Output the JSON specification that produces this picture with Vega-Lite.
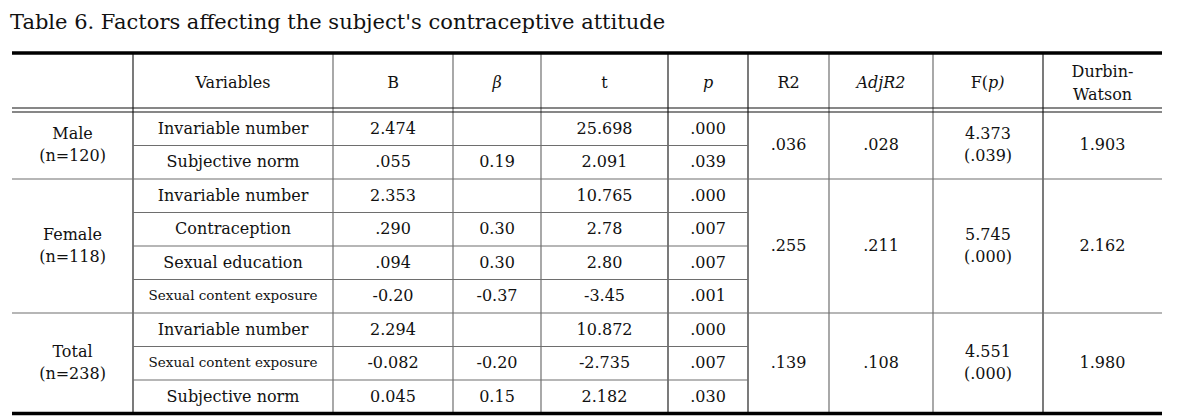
{
  "$schema": "https://vega.github.io/schema/vega-lite/v6.json",
  "width": 1150,
  "height": 361,
  "autosize": {"type": "none"},
  "padding": {"left": 12, "top": 53, "right": 20, "bottom": 6},
  "background": "white",
  "config": {"view": {"stroke": null}, "font": "DejaVu Serif"},
  "title": {
    "text": "Table 6. Factors affecting the subject's contraceptive attitude",
    "anchor": "start",
    "frame": "group",
    "font": "DejaVu Serif",
    "fontSize": 21,
    "fontWeight": "normal",
    "color": "#111111",
    "offset": 18,
    "dx": -2
  },
  "datasets": {
    "columns": [
      {"col": "group", "center": 60.5},
      {"col": "var", "center": 221},
      {"col": "B", "center": 381},
      {"col": "beta", "center": 485},
      {"col": "t", "center": 592.5},
      {"col": "p", "center": 696},
      {"col": "R2", "center": 776.5},
      {"col": "AdjR2", "center": 869},
      {"col": "F", "center": 976},
      {"col": "DW", "center": 1090.5}
    ],
    "header": [
      {"col": "var", "label": "Variables"},
      {"col": "B", "label": "B"},
      {"col": "beta", "label": "β"},
      {"col": "t", "label": "t"},
      {"col": "p", "label": "p"},
      {"col": "R2", "label": "R2"},
      {"col": "AdjR2", "label": "AdjR2"},
      {"col": "DW", "label": "Durbin-\nWatson"}
    ],
    "cells": [
      {"col": "group", "row": 1.5, "label": "Male\n(n=120)"},
      {"col": "var", "row": 1, "label": "Invariable number"},
      {"col": "B", "row": 1, "label": "2.474"},
      {"col": "t", "row": 1, "label": "25.698"},
      {"col": "p", "row": 1, "label": ".000"},
      {"col": "var", "row": 2, "label": "Subjective norm"},
      {"col": "B", "row": 2, "label": ".055"},
      {"col": "beta", "row": 2, "label": "0.19"},
      {"col": "t", "row": 2, "label": "2.091"},
      {"col": "p", "row": 2, "label": ".039"},
      {"col": "R2", "row": 1.5, "label": ".036"},
      {"col": "AdjR2", "row": 1.5, "label": ".028"},
      {"col": "F", "row": 1.5, "label": "4.373\n(.039)"},
      {"col": "DW", "row": 1.5, "label": "1.903"},

      {"col": "group", "row": 4.5, "label": "Female\n(n=118)"},
      {"col": "var", "row": 3, "label": "Invariable number"},
      {"col": "B", "row": 3, "label": "2.353"},
      {"col": "t", "row": 3, "label": "10.765"},
      {"col": "p", "row": 3, "label": ".000"},
      {"col": "var", "row": 4, "label": "Contraception"},
      {"col": "B", "row": 4, "label": ".290"},
      {"col": "beta", "row": 4, "label": "0.30"},
      {"col": "t", "row": 4, "label": "2.78"},
      {"col": "p", "row": 4, "label": ".007"},
      {"col": "var", "row": 5, "label": "Sexual education"},
      {"col": "B", "row": 5, "label": ".094"},
      {"col": "beta", "row": 5, "label": "0.30"},
      {"col": "t", "row": 5, "label": "2.80"},
      {"col": "p", "row": 5, "label": ".007"},
      {"col": "var", "row": 6, "label": "Sexual content exposure"},
      {"col": "B", "row": 6, "label": "-0.20"},
      {"col": "beta", "row": 6, "label": "-0.37"},
      {"col": "t", "row": 6, "label": "-3.45"},
      {"col": "p", "row": 6, "label": ".001"},
      {"col": "R2", "row": 4.5, "label": ".255"},
      {"col": "AdjR2", "row": 4.5, "label": ".211"},
      {"col": "F", "row": 4.5, "label": "5.745\n(.000)"},
      {"col": "DW", "row": 4.5, "label": "2.162"},

      {"col": "group", "row": 8, "label": "Total\n(n=238)"},
      {"col": "var", "row": 7, "label": "Invariable number"},
      {"col": "B", "row": 7, "label": "2.294"},
      {"col": "t", "row": 7, "label": "10.872"},
      {"col": "p", "row": 7, "label": ".000"},
      {"col": "var", "row": 8, "label": "Sexual content exposure"},
      {"col": "B", "row": 8, "label": "-0.082"},
      {"col": "beta", "row": 8, "label": "-0.20"},
      {"col": "t", "row": 8, "label": "-2.735"},
      {"col": "p", "row": 8, "label": ".007"},
      {"col": "var", "row": 9, "label": "Subjective norm"},
      {"col": "B", "row": 9, "label": "0.045"},
      {"col": "beta", "row": 9, "label": "0.15"},
      {"col": "t", "row": 9, "label": "2.182"},
      {"col": "p", "row": 9, "label": ".030"},
      {"col": "R2", "row": 8, "label": ".139"},
      {"col": "AdjR2", "row": 8, "label": ".108"},
      {"col": "F", "row": 8, "label": "4.551\n(.000)"},
      {"col": "DW", "row": 8, "label": "1.980"}
    ],
    "thick": [{"y": -1.261}, {"y": 9.5}],
    "double": [{"y": 0.381}, {"y": 0.5}],
    "groupSep": [{"y": 2.5}, {"y": 6.5}],
    "rowSep": [{"y": 1.5}, {"y": 3.5}, {"y": 4.5}, {"y": 5.5}, {"y": 7.5}, {"y": 8.5}],
    "vMajor": [{"x": 121}, {"x": 656}, {"x": 736}, {"x": 1031}],
    "vMinor": [{"x": 321}, {"x": 441}, {"x": 529}, {"x": 817}, {"x": 921}]
  },
  "layer": [
    {
      "data": {"name": "vMinor"},
      "mark": {"type": "rule", "color": "#7a7a7a", "strokeWidth": 1.3},
      "encoding": {
        "x": {"field": "x", "type": "quantitative", "scale": {"domain": [0, 1150], "nice": false, "zero": false}, "axis": null},
        "y": {"datum": -1.261, "type": "quantitative", "scale": {"domain": [-1.261, 9.515], "reverse": true, "nice": false, "zero": false}, "axis": null},
        "y2": {"datum": 9.5}
      }
    },
    {
      "data": {"name": "vMajor"},
      "mark": {"type": "rule", "color": "#333333", "strokeWidth": 1.3},
      "encoding": {
        "x": {"field": "x", "type": "quantitative", "scale": {"domain": [0, 1150], "nice": false, "zero": false}, "axis": null},
        "y": {"datum": -1.261, "type": "quantitative", "scale": {"domain": [-1.261, 9.515], "reverse": true, "nice": false, "zero": false}, "axis": null},
        "y2": {"datum": 9.5}
      }
    },
    {
      "data": {"name": "rowSep"},
      "mark": {"type": "rule", "color": "#6e6e6e", "strokeWidth": 1.2},
      "encoding": {
        "x": {"datum": 121, "type": "quantitative", "scale": {"domain": [0, 1150], "nice": false, "zero": false}, "axis": null},
        "x2": {"datum": 736},
        "y": {"field": "y", "type": "quantitative", "scale": {"domain": [-1.261, 9.515], "reverse": true, "nice": false, "zero": false}, "axis": null}
      }
    },
    {
      "data": {"name": "groupSep"},
      "mark": {"type": "rule", "color": "#6e6e6e", "strokeWidth": 1.2},
      "encoding": {
        "x": {"datum": 0, "type": "quantitative", "scale": {"domain": [0, 1150], "nice": false, "zero": false}, "axis": null},
        "x2": {"datum": 1150},
        "y": {"field": "y", "type": "quantitative", "scale": {"domain": [-1.261, 9.515], "reverse": true, "nice": false, "zero": false}, "axis": null}
      }
    },
    {
      "data": {"name": "double"},
      "mark": {"type": "rule", "color": "#111111", "strokeWidth": 1.2},
      "encoding": {
        "x": {"datum": 0, "type": "quantitative", "scale": {"domain": [0, 1150], "nice": false, "zero": false}, "axis": null},
        "x2": {"datum": 1150},
        "y": {"field": "y", "type": "quantitative", "scale": {"domain": [-1.261, 9.515], "reverse": true, "nice": false, "zero": false}, "axis": null}
      }
    },
    {
      "data": {"name": "thick"},
      "mark": {"type": "rule", "color": "#000000", "strokeWidth": 3.6},
      "encoding": {
        "x": {"datum": 0, "type": "quantitative", "scale": {"domain": [0, 1150], "nice": false, "zero": false}, "axis": null},
        "x2": {"datum": 1150},
        "y": {"field": "y", "type": "quantitative", "scale": {"domain": [-1.261, 9.515], "reverse": true, "nice": false, "zero": false}, "axis": null}
      }
    },
    {
      "data": {"name": "header"},
      "transform": [
        {"filter": {"not": {"field": "label", "oneOf": ["β", "p", "AdjR2", "Durbin-\nWatson"]}}},
        {"lookup": "col", "from": {"data": {"name": "columns"}, "key": "col", "fields": ["center"]}}
      ],
      "mark": {"type": "text", "font": "DejaVu Serif", "fontSize": 16, "color": "#111111", "align": "center", "baseline": "middle"},
      "encoding": {
        "x": {"field": "center", "type": "quantitative", "scale": {"domain": [0, 1150], "nice": false, "zero": false}, "axis": null},
        "y": {"datum": -0.365, "type": "quantitative", "scale": {"domain": [-1.261, 9.515], "reverse": true, "nice": false, "zero": false}, "axis": null},
        "text": {"field": "label"}
      }
    },
    {
      "data": {"name": "header"},
      "transform": [
        {"filter": {"field": "label", "oneOf": ["Durbin-\nWatson"]}},
        {"lookup": "col", "from": {"data": {"name": "columns"}, "key": "col", "fields": ["center"]}}
      ],
      "mark": {"type": "text", "font": "DejaVu Serif", "fontSize": 16, "color": "#111111", "align": "center", "baseline": "middle", "lineBreak": "\n", "lineHeight": 23, "dy": -11.5},
      "encoding": {
        "x": {"field": "center", "type": "quantitative", "scale": {"domain": [0, 1150], "nice": false, "zero": false}, "axis": null},
        "y": {"datum": -0.365, "type": "quantitative", "scale": {"domain": [-1.261, 9.515], "reverse": true, "nice": false, "zero": false}, "axis": null},
        "text": {"field": "label"}
      }
    },
    {
      "data": {"name": "header"},
      "transform": [
        {"filter": {"field": "label", "oneOf": ["β", "p", "AdjR2"]}},
        {"lookup": "col", "from": {"data": {"name": "columns"}, "key": "col", "fields": ["center"]}}
      ],
      "mark": {"type": "text", "font": "DejaVu Serif", "fontSize": 16, "fontStyle": "italic", "color": "#111111", "align": "center", "baseline": "middle"},
      "encoding": {
        "x": {"field": "center", "type": "quantitative", "scale": {"domain": [0, 1150], "nice": false, "zero": false}, "axis": null},
        "y": {"datum": -0.365, "type": "quantitative", "scale": {"domain": [-1.261, 9.515], "reverse": true, "nice": false, "zero": false}, "axis": null},
        "text": {"field": "label"}
      }
    },
    {
      "data": {"values": [{"col": "F", "label": "F("}]},
      "transform": [
        {"lookup": "col", "from": {"data": {"name": "columns"}, "key": "col", "fields": ["center"]}}
      ],
      "mark": {"type": "text", "font": "DejaVu Serif", "fontSize": 16, "color": "#111111", "align": "right", "baseline": "middle"},
      "encoding": {
        "x": {"field": "center", "type": "quantitative", "scale": {"domain": [0, 1150], "nice": false, "zero": false}, "axis": null},
        "y": {"datum": -0.365, "type": "quantitative", "scale": {"domain": [-1.261, 9.515], "reverse": true, "nice": false, "zero": false}, "axis": null},
        "text": {"field": "label"}
      }
    },
    {
      "data": {"values": [{"col": "F", "label": "p)"}]},
      "transform": [
        {"lookup": "col", "from": {"data": {"name": "columns"}, "key": "col", "fields": ["center"]}}
      ],
      "mark": {"type": "text", "font": "DejaVu Serif", "fontSize": 16, "fontStyle": "italic", "color": "#111111", "align": "left", "baseline": "middle"},
      "encoding": {
        "x": {"field": "center", "type": "quantitative", "scale": {"domain": [0, 1150], "nice": false, "zero": false}, "axis": null},
        "y": {"datum": -0.365, "type": "quantitative", "scale": {"domain": [-1.261, 9.515], "reverse": true, "nice": false, "zero": false}, "axis": null},
        "text": {"field": "label"}
      }
    },
    {
      "data": {"name": "cells"},
      "transform": [
        {"filter": "datum.label !== 'Sexual content exposure' && indexof(datum.label, '\\n') < 0"},
        {"lookup": "col", "from": {"data": {"name": "columns"}, "key": "col", "fields": ["center"]}}
      ],
      "mark": {"type": "text", "font": "DejaVu Serif", "fontSize": 16, "color": "#111111", "align": "center", "baseline": "middle"},
      "encoding": {
        "x": {"field": "center", "type": "quantitative", "scale": {"domain": [0, 1150], "nice": false, "zero": false}, "axis": null},
        "y": {"field": "row", "type": "quantitative", "scale": {"domain": [-1.261, 9.515], "reverse": true, "nice": false, "zero": false}, "axis": null},
        "text": {"field": "label"}
      }
    },
    {
      "data": {"name": "cells"},
      "transform": [
        {"filter": "indexof(datum.label, '\\n') >= 0"},
        {"lookup": "col", "from": {"data": {"name": "columns"}, "key": "col", "fields": ["center"]}}
      ],
      "mark": {"type": "text", "font": "DejaVu Serif", "fontSize": 16, "color": "#111111", "align": "center", "baseline": "middle", "lineBreak": "\n", "lineHeight": 22, "dy": -11},
      "encoding": {
        "x": {"field": "center", "type": "quantitative", "scale": {"domain": [0, 1150], "nice": false, "zero": false}, "axis": null},
        "y": {"field": "row", "type": "quantitative", "scale": {"domain": [-1.261, 9.515], "reverse": true, "nice": false, "zero": false}, "axis": null},
        "text": {"field": "label"}
      }
    },
    {
      "data": {"name": "cells"},
      "transform": [
        {"filter": "datum.label === 'Sexual content exposure'"},
        {"lookup": "col", "from": {"data": {"name": "columns"}, "key": "col", "fields": ["center"]}}
      ],
      "mark": {"type": "text", "font": "DejaVu Serif", "fontSize": 13.5, "color": "#111111", "align": "center", "baseline": "middle"},
      "encoding": {
        "x": {"field": "center", "type": "quantitative", "scale": {"domain": [0, 1150], "nice": false, "zero": false}, "axis": null},
        "y": {"field": "row", "type": "quantitative", "scale": {"domain": [-1.261, 9.515], "reverse": true, "nice": false, "zero": false}, "axis": null},
        "text": {"field": "label"}
      }
    }
  ]
}
